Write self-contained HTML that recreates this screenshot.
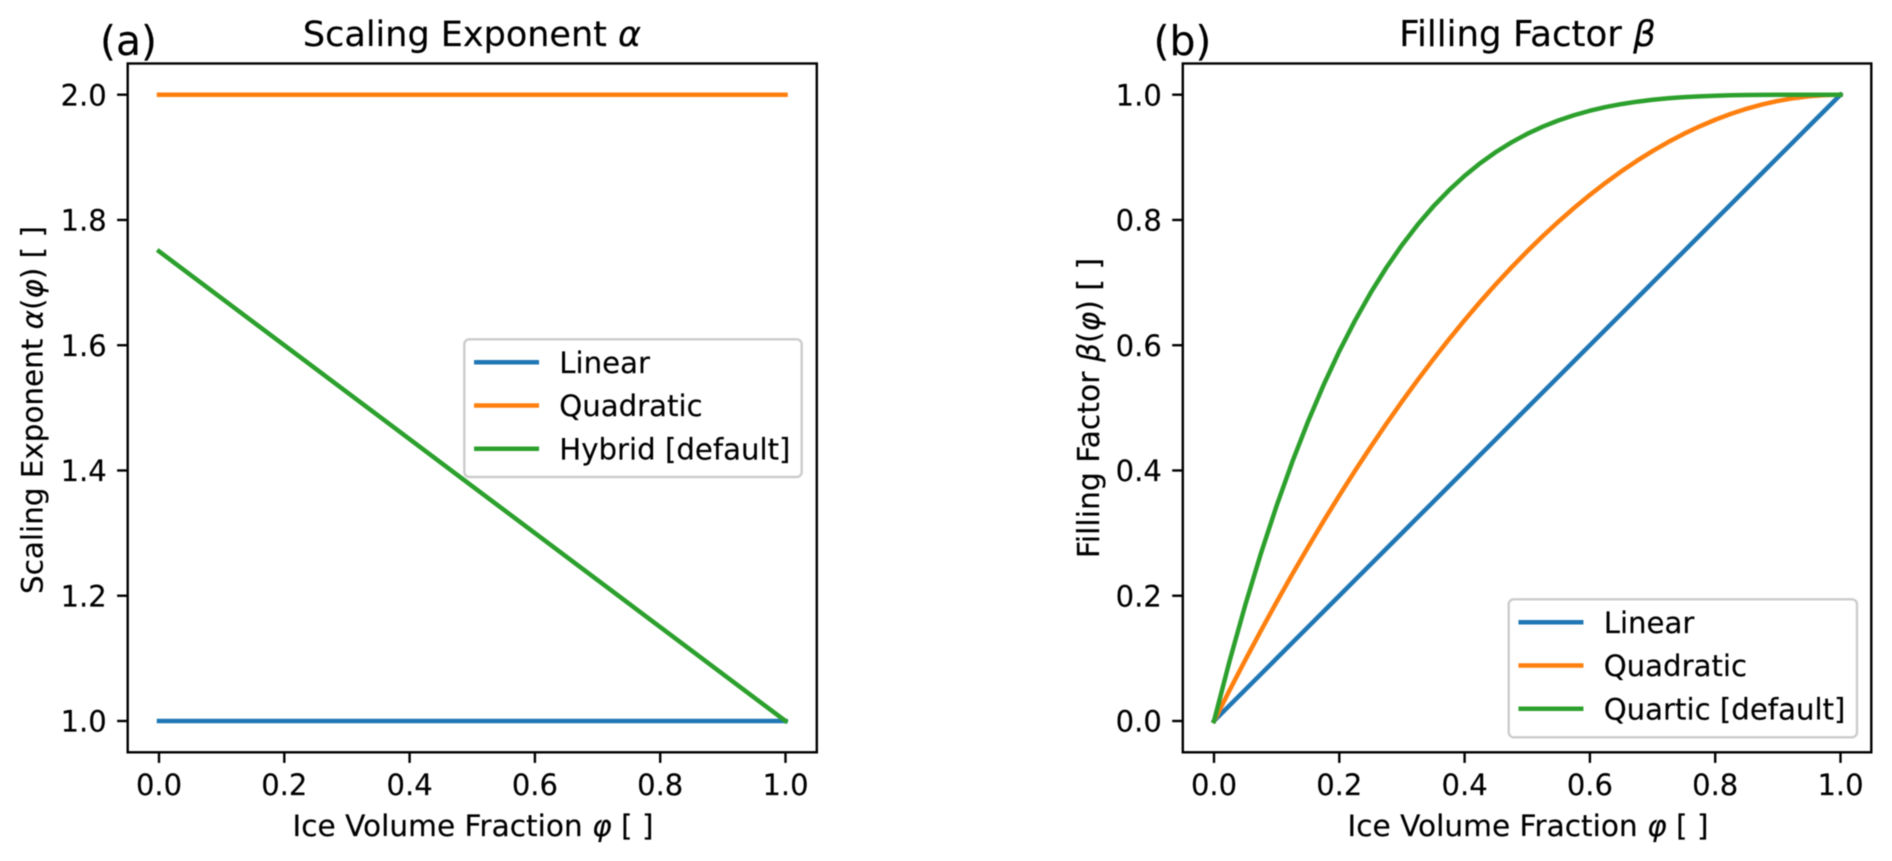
<!DOCTYPE html>
<html lang="en">
<head>
<meta charset="utf-8">
<title>Scaling Exponent and Filling Factor</title>
<style>
html,body{margin:0;padding:0;background:#fff;}
svg{display:block;filter:blur(0.4px);}
text{font-family:"DejaVu Sans","Liberation Sans",sans-serif;fill:#000;stroke:#000;stroke-width:0.15px;}
</style>
</head>
<body>
<svg id="figure" xmlns="http://www.w3.org/2000/svg" width="1892" height="861" viewBox="0 0 1892 861">
<rect width="1892" height="861" fill="#fff"/>

<g id="panel-a"></g>
<g id="panel-b"></g>

<text x="100" y="55" font-size="40.9">(a)</text>
<text x="472" y="46" font-size="35" text-anchor="middle">Scaling Exponent <tspan font-style="italic">α</tspan></text>
<text x="473" y="836" font-size="29.6" text-anchor="middle">Ice Volume Fraction <tspan font-style="italic">φ</tspan> [ ]</text>
<text transform="translate(42.3 410) rotate(-90)" font-size="29.4" text-anchor="middle">Scaling Exponent <tspan font-style="italic">α</tspan>(<tspan font-style="italic">φ</tspan>) [ ]</text>

<text x="1153.5" y="55" font-size="40.9">(b)</text>
<text x="1527.5" y="46" font-size="35.6" text-anchor="middle">Filling Factor <tspan font-style="italic">β</tspan></text>
<text x="1528" y="836" font-size="29.6" text-anchor="middle">Ice Volume Fraction <tspan font-style="italic">φ</tspan> [ ]</text>
<text transform="translate(1099 408) rotate(-90)" font-size="29.8" text-anchor="middle">Filling Factor <tspan font-style="italic">β</tspan>(<tspan font-style="italic">φ</tspan>) [ ]</text>
</svg>

<script>
// Panel (a) data
const phiA = [0, 0.25, 0.5, 0.75, 1];
const alphaLinear = [1, 1, 1, 1, 1];
const alphaQuadratic = [2, 2, 2, 2, 2];
const alphaHybrid = [1.75, 1.5625, 1.375, 1.1875, 1];
const alphaXTicks = [0, 0.2, 0.4, 0.6, 0.8, 1];
const alphaYTicks = [1, 1.2, 1.4, 1.6, 1.8, 2];
const alphaLegend = ['Linear', 'Quadratic', 'Hybrid [default]'];

// Panel (b) data
const phiB = [0,0.025,0.05,0.075,0.1,0.125,0.15,0.175,0.2,0.225,0.25,0.275,0.3,0.325,0.35,0.375,0.4,0.425,0.45,0.475,0.5,0.525,0.55,0.575,0.6,0.625,0.65,0.675,0.7,0.725,0.75,0.775,0.8,0.825,0.85,0.875,0.9,0.925,0.95,0.975,1];
const betaLinear = [0,0.025,0.05,0.075,0.1,0.125,0.15,0.175,0.2,0.225,0.25,0.275,0.3,0.325,0.35,0.375,0.4,0.425,0.45,0.475,0.5,0.525,0.55,0.575,0.6,0.625,0.65,0.675,0.7,0.725,0.75,0.775,0.8,0.825,0.85,0.875,0.9,0.925,0.95,0.975,1];
const betaQuadratic = [0,0.0494,0.0975,0.1444,0.19,0.2344,0.2775,0.3194,0.36,0.3994,0.4375,0.4744,0.51,0.5444,0.5775,0.6094,0.64,0.6694,0.6975,0.7244,0.75,0.7744,0.7975,0.8194,0.84,0.8594,0.8775,0.8944,0.91,0.9244,0.9375,0.9494,0.96,0.9694,0.9775,0.9844,0.99,0.9944,0.9975,0.9994,1];
const betaQuartic = [0,0.0963,0.1855,0.2679,0.3439,0.4138,0.478,0.5367,0.5904,0.6392,0.6836,0.7237,0.7599,0.7924,0.8215,0.8474,0.8704,0.8907,0.9085,0.924,0.9375,0.9491,0.959,0.9674,0.9744,0.9802,0.985,0.9888,0.9919,0.9943,0.9961,0.9974,0.9984,0.9991,0.9995,0.9998,0.9999,1,1,1,1];
const betaXTicks = [0, 0.2, 0.4, 0.6, 0.8, 1];
const betaYTicks = [0, 0.2, 0.4, 0.6, 0.8, 1];
const betaLegend = ['Linear', 'Quadratic', 'Quartic [default]'];

const seriesColors = ['#1f77b4', '#ff7f0e', '#2ca02c'];
const seriesKeys = ['linear', 'quadratic', 'third'];
const NS = 'http://www.w3.org/2000/svg';

function make(parent, tag, attrs) {
  const el = document.createElementNS(NS, tag);
  for (const k in attrs) el.setAttribute(k, attrs[k]);
  parent.appendChild(el);
  return el;
}

function drawPanel(cfg) {
  const g = document.getElementById(cfg.id);
  const px = cfg.frame;
  const sx = v => px.x0 + (v - cfg.xDomain[0]) / (cfg.xDomain[1] - cfg.xDomain[0]) * (px.x1 - px.x0);
  const sy = v => px.y0 + (v - cfg.yDomain[0]) / (cfg.yDomain[1] - cfg.yDomain[0]) * (px.y1 - px.y0);

  // Series
  cfg.series.forEach((vals, i) => {
    const pts = vals.map((v, j) => sx(cfg.xs[j]).toFixed(2) + ',' + sy(v).toFixed(2)).join(' ');
    const line = make(g, 'polyline', {points: pts, fill: 'none', stroke: seriesColors[i], 'stroke-width': 4.5, 'stroke-linecap': 'square', 'stroke-linejoin': 'round'});
    
    
  });

  // Frame
  const frame = make(g, 'rect', {x: px.left, y: px.top, width: px.right - px.left, height: px.bottom - px.top, fill: 'none', stroke: '#000', 'stroke-width': 2.4});
  
  

  // X ticks
  cfg.xTicks.forEach(t => {
    const x = sx(t);
    const mark = make(g, 'line', {x1: x, x2: x, y1: px.bottom, y2: px.bottom + 10.6, stroke: '#000', 'stroke-width': 2.4});
    
    
    const label = make(g, 'text', {x: x, y: 795, 'font-size': 29, 'text-anchor': 'middle'});
    label.textContent = t.toFixed(1);
    
    
  });

  // Y ticks
  cfg.yTicks.forEach(t => {
    const y = sy(t);
    const mark = make(g, 'line', {x1: px.left - 10.6, x2: px.left, y1: y, y2: y, stroke: '#000', 'stroke-width': 2.4});
    
    
    const label = make(g, 'text', {x: px.left - 21, y: y + 10.6, 'font-size': 29, 'text-anchor': 'end'});
    label.textContent = t.toFixed(1);
    
    
  });

  // Legend
  const lg = cfg.legend;
  const legend = make(g, 'g', {});
  
  
  const box = make(legend, 'rect', {x: lg.x, y: lg.y, width: lg.w, height: lg.h, rx: 5, ry: 5, fill: '#fff', 'fill-opacity': 0.8, stroke: '#ccc', 'stroke-width': 2.4});
  
  
  cfg.labels.forEach((name, i) => {
    const rowY = lg.y + 23 + i * 43.2;
    const handle = make(legend, 'line', {x1: lg.x + 12, x2: lg.x + 72.5, y1: rowY, y2: rowY, stroke: seriesColors[i], 'stroke-width': 4.5, 'stroke-linecap': 'square'});
    
    
    const text = make(legend, 'text', {x: lg.x + 95, y: rowY + 10.6, 'font-size': 29.2});
    text.textContent = name;
    
    
  });
}

drawPanel({
  id: 'panel-a',
  frame: {left: 127.7, right: 816.8, top: 63.5, bottom: 752.3, x0: 159, x1: 785.5, y0: 721, y1: 94.7},
  xDomain: [0, 1],
  yDomain: [1, 2],
  xs: phiA,
  series: [alphaLinear, alphaQuadratic, alphaHybrid],
  xTicks: alphaXTicks,
  yTicks: alphaYTicks,
  labels: alphaLegend,
  legend: {x: 464.3, y: 339.3, w: 337.4, h: 137.7}
});

drawPanel({
  id: 'panel-b',
  frame: {left: 1182.8, right: 1871.3, top: 63.5, bottom: 752.3, x0: 1214, x1: 1840.5, y0: 721, y1: 94.7},
  xDomain: [0, 1],
  yDomain: [0, 1],
  xs: phiB,
  series: [betaLinear, betaQuadratic, betaQuartic],
  xTicks: betaXTicks,
  yTicks: betaYTicks,
  labels: betaLegend,
  legend: {x: 1508.7, y: 599.3, w: 348.3, h: 138}
});
</script>
</body>
</html>
